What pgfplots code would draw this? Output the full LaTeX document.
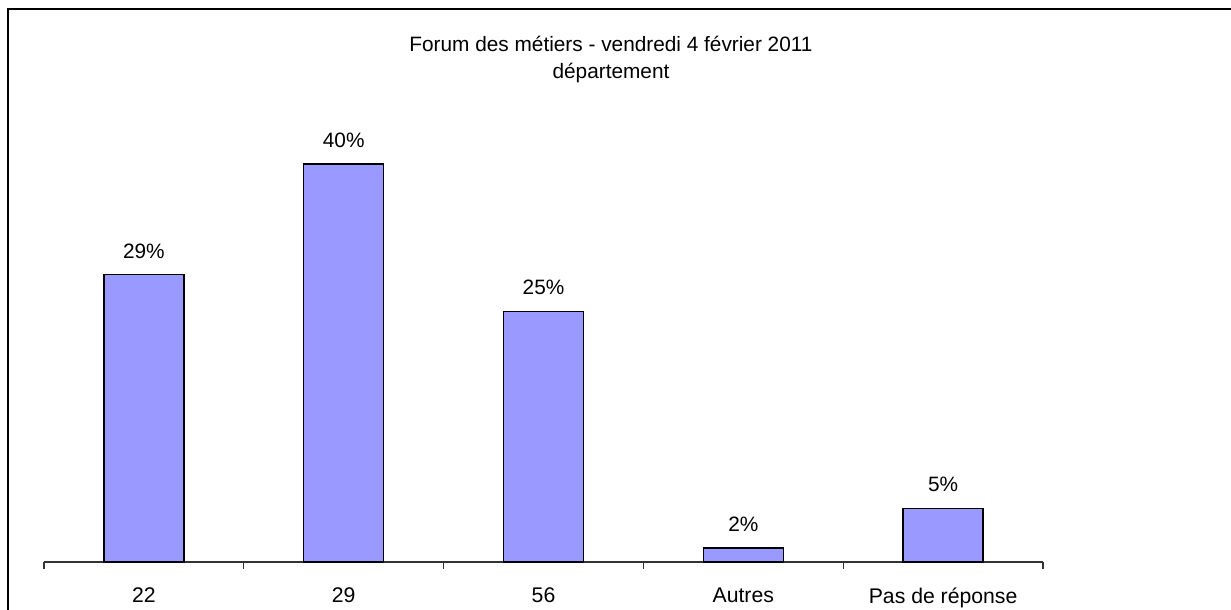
\documentclass[border=0pt]{standalone}
\usepackage{pgfplots}
\pgfplotsset{compat=1.18}
\usepackage{fontspec}
\setmainfont{Liberation Sans}
\definecolor{barblue}{RGB}{153,153,255}
\begin{document}
\begin{tikzpicture}
\path[use as bounding box] (0,0) rectangle (615.5pt,305pt);
\draw[line width=0.75pt, black] (4pt,0) -- (4pt,300.5pt) -- (615.5pt,300.5pt);
\node[font=\fontsize{10.4}{12}\selectfont, anchor=base] at (305.5pt,279pt) {Forum des métiers - vendredi 4 février 2011};
\node[font=\fontsize{10.4}{12}\selectfont, anchor=base] at (305.5pt,265.5pt) {département};
\begin{axis}[
  at={(22pt,24pt)}, anchor=south west,
  scale only axis,
  width=499.5pt, height=223.9pt,
  xmin=-0.5, xmax=4.5, ymin=0, ymax=45,
  axis x line*=bottom, axis y line=none,
  axis line style={-, black!80, line width=0.6pt},
  xtick={0,1,2,3,4},
  xticklabels={22,29,56,Autres,Pas de réponse},
  major tick length=0pt,
  minor xtick={-0.5,0.5,1.5,2.5,3.5,4.5},
  minor tick length=3.5pt,
  tick align=outside,
  minor tick style={black!80, line width=0.6pt},
  ytick=\empty,
  xticklabel style={font=\fontsize{10.6}{12}\selectfont, yshift=-9.5pt},
  /pgf/number format/assume math mode=true,
  ybar, bar width=40pt,
  nodes near coords,
  point meta=explicit symbolic,
  every node near coord/.append style={font=\fontsize{10.4}{12}\selectfont, text depth=0pt, yshift=4.5pt, black},
  clip=false,
]
\addplot[fill=barblue, draw=black, line width=0.65pt] coordinates {
  (0,28.9) [29\%]
  (1,40.0) [40\%]
  (2,25.2) [25\%]
  (3,1.4) [2\%]
  (4,5.4) [5\%]
};
\end{axis}
\end{tikzpicture}
\end{document}
